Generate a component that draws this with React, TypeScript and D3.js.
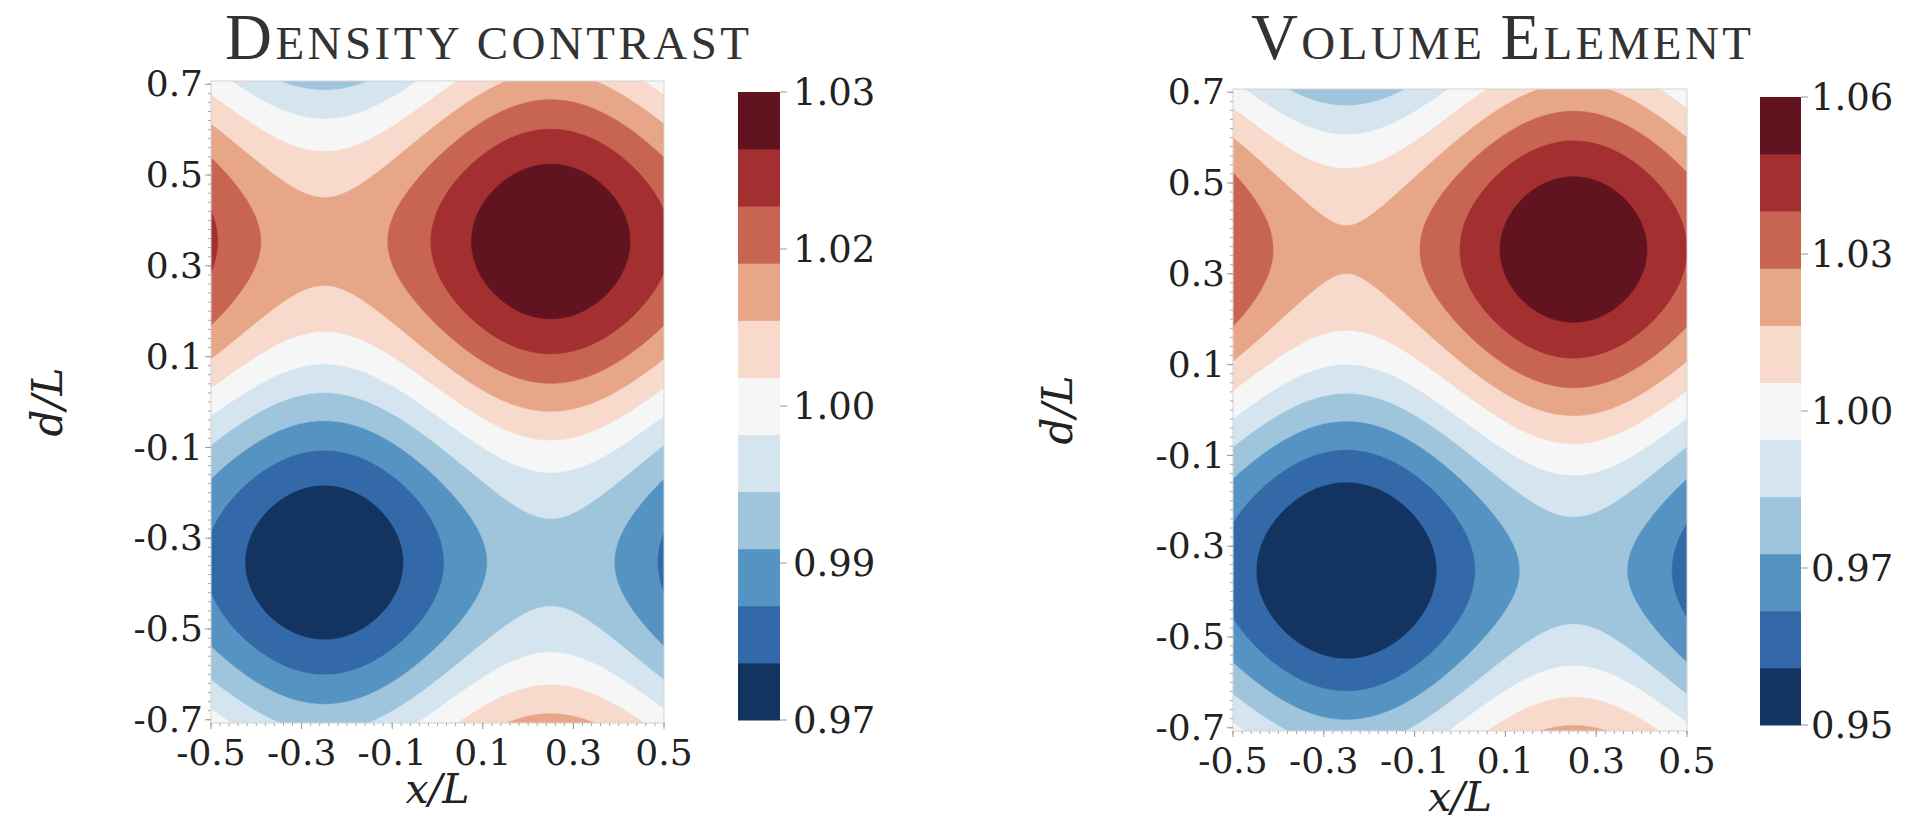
import React, { useMemo } from "react";
import * as d3 from "d3";

const WIDTH = 1910;
const HEIGHT = 820;

// Extent of the sampled field in x/L and d/L
const xExtent = [-0.5, 0.5];
const dExtent = [-0.7071, 0.7071];

const xTicks = [-0.5, -0.3, -0.1, 0.1, 0.3, 0.5];
const dTicks = [0.7, 0.5, 0.3, 0.1, -0.1, -0.3, -0.5, -0.7];

const panelTitles = ["Density contrast", "Volume Element"];

// Field per panel: base + xWaveAmp·sin(2πx/λx) + dWaveAmp·sin(2πd/λd)
const fieldBase = [1.0, 0.998];
const xWaveAmp = [0.01, 0.019];
const dWaveAmp = [0.02, 0.037];
const xWavelength = [1, 1];
const dWavelength = [1.4142, 1.4142];

// Colour range and colorbar labels per panel
const colorMin = [0.97, 0.945];
const colorMax = [1.03, 1.055];
const colorbarTickLabels = [
  ["1.03", "1.02", "1.00", "0.99", "0.97"],
  ["1.06", "1.03", "1.00", "0.97", "0.95"],
];

// Diverging red-blue palette, one colour per filled band, low to high
const bandColors = [
  "#133460", "#3469a9", "#5593c3", "#9ec5dc", "#d4e5ef", "#f6f6f6",
  "#f7dacb", "#e8a688", "#c86552", "#a32f30", "#611420",
];

const layout = [
  { plot: { x: 211, y: 81, w: 453, h: 642 }, cbar: { x: 738, y: 92, w: 42, h: 628 }, titleX: 487, titleW: 524, yLabelX: 62, cbLabelGap: 13 },
  { plot: { x: 1233, y: 89, w: 454, h: 642 }, cbar: { x: 1760, y: 97, w: 41, h: 628 }, titleX: 1501, titleW: 500, yLabelX: 1072, cbLabelGap: 10 },
];

const NX = 260;
const NY = 360;

const SERIF = "'DejaVu Serif', serif";
const TITLE_FONT = "'Liberation Serif', 'DejaVu Serif', serif";

function sampleField(p: number) {
  const values = new Float64Array(NX * NY);
  for (let j = 0; j < NY; j++) {
    const d = dExtent[1] - (j / (NY - 1)) * (dExtent[1] - dExtent[0]);
    for (let i = 0; i < NX; i++) {
      const x = xExtent[0] + (i / (NX - 1)) * (xExtent[1] - xExtent[0]);
      values[j * NX + i] =
        fieldBase[p] +
        xWaveAmp[p] * Math.sin((2 * Math.PI * x) / xWavelength[p]) +
        dWaveAmp[p] * Math.sin((2 * Math.PI * d) / dWavelength[p]);
    }
  }
  return values;
}

function SmallCapsTitle({ text, x, width }: { text: string; x: number; width: number }) {
  const parts = text.split("").map((ch, k) => {
    const big = ch !== " " && ch === ch.toUpperCase();
    return (
      <tspan key={k} fontSize={big ? 65 : 47}>
        {ch.toUpperCase()}
      </tspan>
    );
  });
  return (
    <text
      x={x - width / 2}
      y={59}
      fontFamily={TITLE_FONT}
      fill="#333"
      textLength={width}
      lengthAdjust="spacing"
    >
      {parts}
    </text>
  );
}

function Panel({ p }: { p: number }) {
  const L = layout[p];
  const { plot, cbar } = L;

  const levels = useMemo(
    () => d3.range(12).map((i) => colorMin[p] + (i * (colorMax[p] - colorMin[p])) / 11),
    [p]
  );

  const contours = useMemo(() => {
    const values = sampleField(p);
    return d3.contours().size([NX, NY]).thresholds(levels.slice(1, 11))(Array.from(values));
  }, [p, levels]);

  const xs = d3.scaleLinear().domain([0.5, NX - 0.5]).range([plot.x, plot.x + plot.w]);
  const ys = d3.scaleLinear().domain([0.5, NY - 0.5]).range([plot.y, plot.y + plot.h]);
  const path = d3.geoPath(
    d3.geoTransform({
      point(px: number, py: number) {
        (this as any).stream.point(xs(px), ys(py));
      },
    })
  );

  const xScale = d3.scaleLinear().domain(xExtent).range([plot.x, plot.x + plot.w]);
  const dScale = d3.scaleLinear().domain([dExtent[1], dExtent[0]]).range([plot.y, plot.y + plot.h]);

  const xMinor = d3.range(-25, 26).map((k) => k * 0.02);
  const dMinor = d3.range(-35, 36).map((k) => k * 0.02);

  const cbBand = d3.scaleBand<number>().domain(d3.range(11)).range([cbar.y + cbar.h, cbar.y]).paddingInner(0);
  const cbTickY = d3.scaleLinear().domain([0, 4]).range([cbar.y, cbar.y + cbar.h]);

  const clipId = `plot-clip-${p}`;
  const fmt = (v: number) => (Math.abs(v) < 1e-9 ? "0.0" : v.toFixed(1));

  return (
    <g>
      <SmallCapsTitle text={panelTitles[p]} x={L.titleX} width={L.titleW} />
      <defs>
        <clipPath id={clipId}>
          <rect x={plot.x} y={plot.y} width={plot.w} height={plot.h} />
        </clipPath>
      </defs>
      <g clipPath={`url(#${clipId})`}>
        <rect x={plot.x} y={plot.y} width={plot.w} height={plot.h} fill={bandColors[0]} />
        {contours.map((c, k) => (
          <path key={k} d={path(c as any) || ""} fill={bandColors[k + 1]} stroke={bandColors[k + 1]} strokeWidth={0.6} />
        ))}
      </g>
      <rect x={plot.x} y={plot.y} width={plot.w} height={plot.h} fill="none" stroke="#d4d4d4" strokeWidth={1} />

      {/* x axis ticks */}
      {xMinor.map((v, k) => (
        <line key={`xm${k}`} x1={xScale(v)} x2={xScale(v)} y1={plot.y + plot.h} y2={plot.y + plot.h + 3} stroke="#aaa" strokeWidth={1} />
      ))}
      {xTicks.map((v) => (
        <g key={`xt${v}`}>
          <line x1={xScale(v)} x2={xScale(v)} y1={plot.y + plot.h} y2={plot.y + plot.h + 6} stroke="#999" strokeWidth={1} />
          <text x={xScale(v)} y={plot.y + plot.h + 42} textAnchor="middle" fontFamily={SERIF} fontSize={36} fill="#222">
            {fmt(v)}
          </text>
        </g>
      ))}

      {/* d axis ticks */}
      {dMinor.map((v, k) => (
        <line key={`dm${k}`} x1={plot.x - 3} x2={plot.x} y1={dScale(v)} y2={dScale(v)} stroke="#aaa" strokeWidth={1} />
      ))}
      {dTicks.map((v) => (
        <g key={`dt${v}`}>
          <line x1={plot.x - 6} x2={plot.x} y1={dScale(v)} y2={dScale(v)} stroke="#999" strokeWidth={1} />
          <text x={plot.x - 8} y={dScale(v)} dy="0.34em" textAnchor="end" fontFamily={SERIF} fontSize={36} fill="#222">
            {fmt(v)}
          </text>
        </g>
      ))}

      <text
        x={xScale(0)}
        y={plot.y + plot.h + 80}
        textAnchor="middle"
        fontFamily={SERIF}
        fontStyle="italic"
        fontSize={41}
        fill="#222"
      >
        x/L
      </text>
      <text
        transform={`translate(${L.yLabelX},${plot.y + plot.h / 2}) rotate(-90)`}
        textAnchor="middle"
        fontFamily={SERIF}
        fontStyle="italic"
        fontSize={42}
        fill="#222"
      >
        d/L
      </text>

      {/* colorbar */}
      {d3.range(11).map((k) => (
        <rect key={`cb${k}`} x={cbar.x} y={cbBand(k)} width={cbar.w} height={cbBand.bandwidth() + 0.5} fill={bandColors[k]} />
      ))}
      {colorbarTickLabels[p].map((lab, k) => (
        <g key={`cbt${k}`}>
          <line x1={cbar.x + cbar.w} x2={cbar.x + cbar.w + 7} y1={cbTickY(k)} y2={cbTickY(k)} stroke="#999" strokeWidth={1} />
          <text x={cbar.x + cbar.w + L.cbLabelGap} y={cbTickY(k)} dy="0.36em" fontFamily={SERIF} fontSize={37} fill="#222">
            {lab}
          </text>
        </g>
      ))}
    </g>
  );
}

export default function App() {
  return (
    <svg
      width={WIDTH}
      height={HEIGHT}
      viewBox={`0 0 ${WIDTH} ${HEIGHT}`}
      style={{ position: "absolute", left: 0, top: 0, background: "#fff" }}
    >
      <rect x={0} y={0} width={WIDTH} height={HEIGHT} fill="#fff" />
      <Panel p={0} />
      <Panel p={1} />
    </svg>
  );
}
